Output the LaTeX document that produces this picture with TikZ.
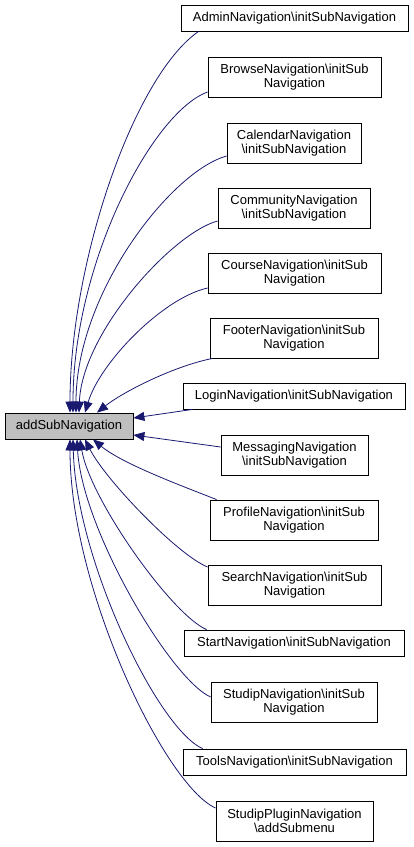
\documentclass[tikz,border=0pt]{standalone}
\usepackage{fontspec}
\setmainfont{Liberation Sans}
\usetikzlibrary{arrows.meta}
\definecolor{edgeblue}{RGB}{25,25,112}

\begin{document}
\begin{tikzpicture}[x=1pt, y=-1pt,
	fnbox/.style={draw=black, line width=0.8pt, inner sep=0pt, align=center, font=\fontsize{13}{14}\selectfont},
	onerow/.style={fnbox, minimum height=26pt},
	tworow/.style={fnbox, minimum height=40pt},
	edge/.style={edgeblue, line width=0.8pt, -{Triangle[length=11pt, width=9pt]}}]
	\useasboundingbox (0,0) rectangle (413,847);
	% the called function
	\node[onerow, fill=black!25, minimum width=128pt] (add) at (69,426) {addSubNavigation};
	% callers
	\node[onerow, minimum width=227pt] (admin) at (294.5,18) {AdminNavigation\textbackslash initSubNavigation};
	\node[tworow, minimum width=173pt] (browse) at (294.5,77) {BrowseNavigation\textbackslash initSub\\Navigation};
	\node[tworow, minimum width=134pt] (calendar) at (294,143) {CalendarNavigation\\\textbackslash initSubNavigation};
	\node[tworow, minimum width=152pt] (community) at (294,208) {CommunityNavigation\\\textbackslash initSubNavigation};
	\node[tworow, minimum width=173pt] (course) at (294.5,273) {CourseNavigation\textbackslash initSub\\Navigation};
	\node[tworow, minimum width=168pt] (footer) at (294,338) {FooterNavigation\textbackslash initSub\\Navigation};
	\node[onerow, minimum width=222pt] (login) at (294,396) {LoginNavigation\textbackslash initSubNavigation};
	\node[tworow, minimum width=147pt] (messaging) at (294.5,455) {MessagingNavigation\\\textbackslash initSubNavigation};
	\node[tworow, minimum width=168pt] (profile) at (294,520) {ProfileNavigation\textbackslash initSub\\Navigation};
	\node[tworow, minimum width=173pt] (search) at (294.5,585) {SearchNavigation\textbackslash initSub\\Navigation};
	\node[onerow, minimum width=220pt] (start) at (294,643) {StartNavigation\textbackslash initSubNavigation};
	\node[tworow, minimum width=166pt] (studip) at (294,702) {StudipNavigation\textbackslash initSub\\Navigation};
	\node[onerow, minimum width=223pt] (tools) at (294.5,762) {ToolsNavigation\textbackslash initSubNavigation};
	\node[tworow, minimum width=157pt] (plugin) at (294.5,821) {StudipPluginNavigation\\\textbackslash addSubmenu};
	% calls, upper half
	\draw[edge] ([xshift=18pt]admin.south west) .. controls +(-65,45) and +(0,-150) .. ([xshift=1pt]add.north);
	\draw[edge] ([yshift=-15pt]browse.west) .. controls +(-55,20) and +(0,-150) .. ([xshift=4pt]add.north);
	\draw[edge] ([yshift=-13pt]calendar.west) .. controls +(-55,15) and +(0,-120) .. ([xshift=7pt]add.north);
	\draw[edge] ([yshift=-13pt]community.west) .. controls +(-45,12) and +(3,-80) .. ([xshift=10pt]add.north);
	\draw[edge] ([yshift=-15pt]course.west) .. controls +(-45,10) and +(15,-50) .. ([xshift=16pt]add.north);
	\draw[edge] ([xshift=3pt]footer.south west) .. controls +(-40,8) and +(25,-20) .. ([xshift=28pt]add.north);
	\draw[edge] ([xshift=10pt]login.south west) -- ([yshift=8pt]add.east);
	% calls, lower half
	\draw[edge] ([yshift=8pt]messaging.west) -- ([yshift=-9pt]add.east);
	\draw[edge] ([xshift=7pt]profile.north west) .. controls +(-30,-12) and +(30,25) .. ([xshift=24pt]add.south);
	\draw[edge] ([yshift=18pt]search.west) .. controls +(-30,-12) and +(20,40) .. ([xshift=16pt]add.south);
	\draw[edge] ([xshift=23pt]start.north west) .. controls +(-35,-15) and +(10,60) .. ([xshift=11pt]add.south);
	\draw[edge] ([yshift=5pt]studip.west) .. controls +(-40,-18) and +(5,90) .. ([xshift=8pt]add.south);
	\draw[edge] ([xshift=20pt]tools.north west) .. controls +(-45,-20) and +(3,120) .. ([xshift=4pt]add.south);
	\draw[edge] ([yshift=13pt]plugin.west) .. controls +(-50,-22) and +(0,150) .. ([xshift=1pt]add.south);
\end{tikzpicture}
\end{document}
